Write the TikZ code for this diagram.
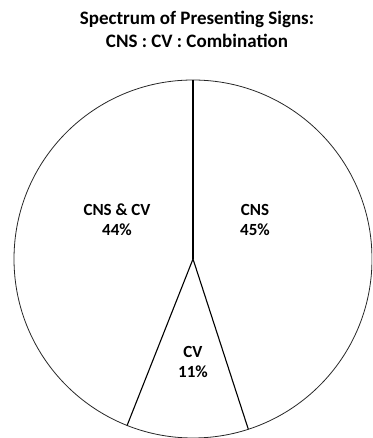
\documentclass[tikz,border=0pt]{standalone}
\usepackage{fontspec}
\setmainfont{Carlito}
\usetikzlibrary{positioning, calc}

\tikzset{
  heading/.style={font=\bfseries\fontsize{19}{22}\selectfont, inner sep=0pt},
  share/.style={font=\bfseries\fontsize{17}{20}\selectfont, align=center, inner sep=0pt},
  rim/.style={draw=black!85, line width=0.8pt},
  cut/.style={draw=black, line width=1.1pt}
}

\begin{document}
\begin{tikzpicture}[x=1pt, y=1pt]
  \useasboundingbox (0,0) rectangle (372,438);

  % Title
	\node[heading] (title1) at (197,419) {Spectrum of Presenting Signs:};
	\node[heading] (title2) at (197,397) {CNS : CV : Combination};

  % Pie
	\coordinate (O) at (193,179);
	\begin{scope}
	  \clip (0,0) rectangle (372,438);
	  \draw[rim] (O) circle (179);
	\end{scope}
	\coordinate (top) at ($(O)+(90:179)$);
	\coordinate (cutR) at ($(O)+(-72:179)$);
	\coordinate (cutL) at ($(O)+(-111.6:179)$);
	\draw[cut] (top) -- (O);
	\draw[cut] (O) -- (cutR);
	\draw[cut] (O) -- (cutL);

  % Labels
	\node[share] (both) at (117,218) {CNS \& CV\\44\%};
	\node[share] (cns) at (255,218) {CNS\\45\%};
	\node[share] (cv) at (193,76) {CV\\11\%};
\end{tikzpicture}
\end{document}
